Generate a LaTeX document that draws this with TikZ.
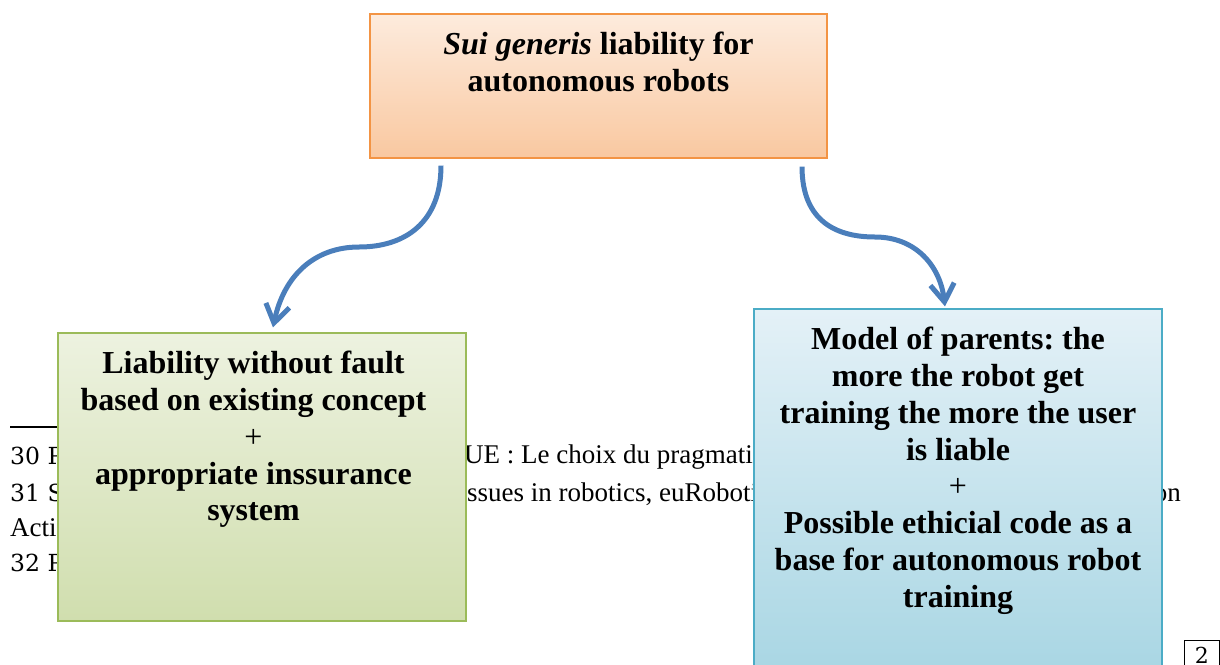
\documentclass[tikz,border=0pt]{standalone}
\usepackage{fontspec}
\newfontfamily\tnr{Liberation Serif}
\newfontfamily\djs{DejaVu Serif}
\usetikzlibrary{arrows.meta,calc}
\frenchspacing

\definecolor{orangetop}{HTML}{FDEBDD}
\definecolor{orangebot}{HTML}{F9C8A0}
\definecolor{orangeedge}{HTML}{F39444}
\definecolor{greentop}{HTML}{EDF2E0}
\definecolor{greenbot}{HTML}{D0DEAE}
\definecolor{greenedge}{HTML}{9BBB59}
\definecolor{bluetop}{HTML}{E4F1F7}
\definecolor{bluebot}{HTML}{A4D4E2}
\definecolor{blueedge}{HTML}{4BACC6}
\definecolor{flowblue}{HTML}{4A7EBB}

\tikzset{
  panel/.style={rectangle, draw, line width=1.2pt, inner sep=0pt},
  toppanel/.style={panel, draw=orangeedge, top color=orangetop, bottom color=orangebot},
  leftpanel/.style={panel, draw=greenedge, top color=greentop, bottom color=greenbot},
  rightpanel/.style={panel, draw=blueedge, top color=bluetop, bottom color=bluebot},
  paneltext/.style={anchor=north, inner sep=0pt, align=center,
    font=\tnr\bfseries\fontsize{32}{36.8}\selectfont},
  flow/.style={draw=flowblue, line width=5pt,
    -{Straight Barb[length=18pt,width=24pt]}},
  fnnum/.style={anchor=base west, inner sep=0pt, font=\djs\fontsize{23.5}{27}\selectfont},
  fntext/.style={anchor=base west, inner sep=0pt, font=\tnr\fontsize{27}{30}\selectfont},
  pagebox/.style={draw, line width=0.8pt, anchor=north west, inner xsep=4pt,
    inner ysep=2pt, minimum width=35pt, text height=21pt, text depth=20pt,
    align=left, font=\djs\fontsize{22}{26}\selectfont}
}

\newcommand{\firstline}{\rule{0pt}{25pt}}

\begin{document}
\begin{tikzpicture}[x=1pt,y=-1pt]
\useasboundingbox (0,0) rectangle (1220,664);
\clip (0,0) rectangle (1220,664);

% footnote rule and footnote lines behind the panels
\draw[line width=1.3pt] (10,427) -- (60,427);
\node[fnnum] (n30) at (10,464) {30 P};
\node[fntext] (f30) at (464,463) {UE : Le choix du pragmatis};
\node[fnnum] (n31) at (10,501) {31 S};
\node[fntext] (f31) at (467,501) {ssues in robotics, euRobotics};
\node[fntext, anchor=base east] (f31b) at (1181,501) {on};
\node[fntext] (f31c) at (10,536) {Action};
\node[fnnum] (n32) at (10,571) {32 P};

% page number
\node[pagebox] (page) at (1184,640) {2\hfill};

% panels
\node[toppanel, minimum width=457pt, minimum height=144pt] (top) at (598.5,86) {};
\node[leftpanel, minimum width=408pt, minimum height=288pt] (left) at (262,477) {};
\node[rightpanel, minimum width=408pt, minimum height=391pt] (right) at (958,504.5) {};

\node[paneltext] (toptext) at ([yshift=-16pt]top.north)
  {\firstline\textit{Sui generis} liability for\\autonomous robots};
\node[paneltext] (lefttext) at ([shift={(-8.5,16)}]left.north)
  {\firstline Liability without fault\\based on existing concept\\{\mdseries +}\\appropriate inssurance\\system};
\node[paneltext] (righttext) at ([yshift=-16pt]right.north)
  {\firstline Model of parents: the\\more the robot get\\training the more the user\\is liable\\{\mdseries +}\\Possible ethicial code as a\\base for autonomous robot\\training};

% curved connectors
\coordinate (lbend) at (359,247);
\coordinate (rbend) at (875,237);
\draw[flow] ([shift={(-157.5,7)}]top.south)
  .. controls ([shift={(-157.5,64)}]top.south) and (405,247) .. (lbend)
  .. controls (315,247) and (284,275) .. ([shift={(11,-5)}]left.north);
\draw[flow] ([shift={(203.5,8)}]top.south)
  .. controls ([shift={(203.5,64)}]top.south) and (838,237) .. (rbend)
  .. controls (915,237) and (940,265) .. ([shift={(-13,-2)}]right.north);
\end{tikzpicture}
\end{document}
